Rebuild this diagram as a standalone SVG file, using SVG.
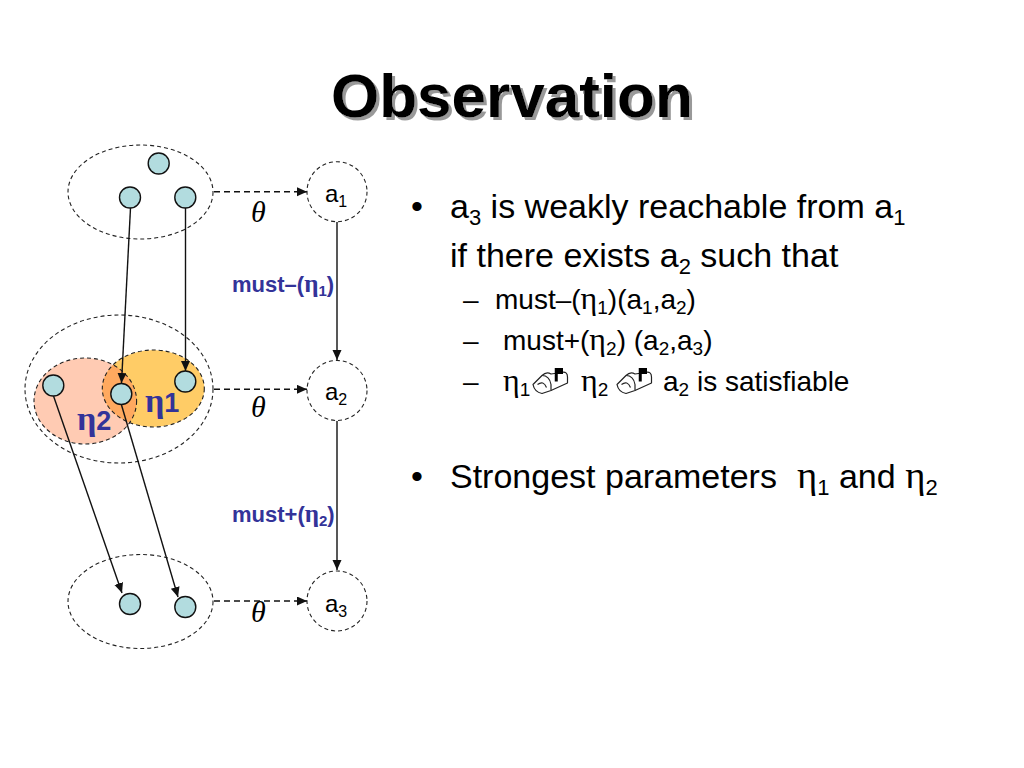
<svg xmlns="http://www.w3.org/2000/svg" xmlns:xlink="http://www.w3.org/1999/xlink" width="1024" height="768" viewBox="0 0 1024 768">
<style>
text{font-family:"Liberation Sans",Arial,sans-serif;fill:#000}
.g{font-family:"Liberation Serif","Times New Roman",serif;font-size:1.14em}
.title{font-size:62px;font-weight:bold;filter:url(#sh)}
.l1{font-size:34px}
.l2{font-size:28px}
.nl{font-size:24px}
.must{font-size:22px;font-weight:bold;fill:#333399}
.eta{font-family:"Liberation Serif",serif;font-size:34px;font-weight:bold;fill:#333399}
.th{font-family:"Liberation Serif",serif;font-style:italic;font-size:30px}
.d{fill:none;stroke:#222;stroke-width:1.1;stroke-dasharray:4 3}
.dot{fill:#B2DCDF;stroke:#111;stroke-width:1.4}
.ar{fill:none;stroke:#111;stroke-width:1.4;marker-end:url(#ah)}
.da{fill:none;stroke:#111;stroke-width:1.4;stroke-dasharray:6 4;marker-end:url(#ah)}
.box{fill:#fff;stroke:#222;stroke-width:.8;stroke-linejoin:round}
</style>
<defs>
<filter id="sh" x="-5%" y="-10%" width="110%" height="125%"><feDropShadow dx="3" dy="3" stdDeviation="0.6" flood-color="#999"/></filter>
<marker id="ah" markerUnits="userSpaceOnUse" markerWidth="11" markerHeight="10" refX="10" refY="4.5" orient="auto"><path d="M0 0L10 4.5L0 9z" fill="#111"/></marker>
<clipPath id="ov"><ellipse cx="153.3" cy="388.5" rx="51" ry="38.5"/></clipPath>
<g id="mb" transform="scale(1.5)"><path class="box" d="M0 9L6 3Q9 0 12 2L19 1Q23 0 23 4V8L12 13L6 15Q1 14 0 9z"/><path class="box" d="M6 3Q11 3 12 9V13M3 9Q7 6 9 11"/><path d="M14.500 2V-2H20V2H16.500V7H14.500z" fill="#000"/></g>
</defs>
<g id="title">
<text class="title" x="331" y="117">Observation</text>
</g>
<g id="group1"><ellipse class="d" cx="140.500" cy="192" rx="72.500" ry="47"/></g>
<g id="group2">
<ellipse cx="85.300" cy="401" rx="51.300" ry="43" fill="#FFCBB3"/>
<ellipse cx="153.300" cy="388.500" rx="51" ry="38.500" fill="#FFCC66"/>
<ellipse cx="85.300" cy="401" rx="51.300" ry="43" fill="#FFA95F" clip-path="url(#ov)"/>
<ellipse class="d" cx="85.300" cy="401" rx="51.300" ry="43"/>
<ellipse class="d" cx="153.300" cy="388.500" rx="51" ry="38.500"/>
<ellipse class="d" cx="119" cy="389" rx="94" ry="74"/>
<text class="eta" x="77" y="430">η<tspan font-family="Liberation Sans" font-size="27">2</tspan></text>
<text class="eta" x="145" y="412">η<tspan font-family="Liberation Sans" font-size="27">1</tspan></text>
</g>
<g id="group3"><ellipse class="d" cx="140.500" cy="601.500" rx="72.500" ry="47"/></g>
<g id="connectors">
<path class="ar" d="M130.500 208L121.500 383"/>
<path class="ar" d="M185.500 208V371"/>
<path class="ar" d="M53.500 396L122 593"/>
<path class="ar" d="M121.500 405L178 597"/>
<path class="ar" d="M337 222V360"/>
<path class="ar" d="M337 421V570"/>
<path class="da" d="M214 191.700H307"/>
<path class="da" d="M214 389.300H307"/>
<path class="da" d="M214 601H307"/>
</g>
<g id="dots">
<circle class="dot" cx="158.700" cy="163.500" r="10.500"/>
<circle class="dot" cx="130" cy="197.500" r="10.500"/>
<circle class="dot" cx="185.300" cy="197.500" r="10.500"/>
<circle class="dot" cx="53.300" cy="385.500" r="10.500"/>
<circle class="dot" cx="121.300" cy="394" r="10.500"/>
<circle class="dot" cx="185.300" cy="381.500" r="10.500"/>
<circle class="dot" cx="130" cy="604" r="10.500"/>
<circle class="dot" cx="185.300" cy="607" r="10.500"/>
</g>
<g id="a1"><circle class="d" cx="337" cy="191.700" r="30"/><text class="nl" x="325" y="202">a<tspan font-size="16" dy="5">1</tspan></text></g>
<g id="a2"><circle class="d" cx="337" cy="390.500" r="30"/><text class="nl" x="325" y="400">a<tspan font-size="16" dy="5">2</tspan></text></g>
<g id="a3"><circle class="d" cx="337" cy="601" r="30"/><text class="nl" x="325" y="612">a<tspan font-size="16" dy="5">3</tspan></text></g>
<g id="thetas">
<text class="th" x="251" y="222">θ</text>
<text class="th" x="251" y="417">θ</text>
<text class="th" x="251" y="622">θ</text>
</g>
<g id="must-labels">
<text class="must" x="232" y="292">must–(<tspan class="g">η</tspan><tspan font-size="15" dy="4">1</tspan><tspan dy="-4">)</tspan></text>
<text class="must" x="232" y="522">must+(<tspan class="g">η</tspan><tspan font-size="15" dy="4">2</tspan><tspan dy="-4">)</tspan></text>
</g>
<g id="bullets">
<text class="l1" x="411" y="218">•</text>
<text class="l1" x="450" y="218">a<tspan font-size="22" dy="7">3</tspan><tspan dy="-7"> is weakly reachable from a</tspan><tspan font-size="22" dy="7">1</tspan></text>
<text class="l1" x="450" y="267">if there exists a<tspan font-size="22" dy="7">2</tspan><tspan dy="-7"> such that</tspan></text>
<text class="l2" x="463" y="309">–</text>
<text class="l2" x="495" y="309">must–(<tspan class="g">η</tspan><tspan font-size="19" dy="5">1</tspan><tspan dy="-5">)(a</tspan><tspan font-size="19" dy="5">1</tspan><tspan dy="-5">,a</tspan><tspan font-size="19" dy="5">2</tspan><tspan dy="-5">)</tspan></text>
<text class="l2" x="463" y="350">–</text>
<text class="l2" x="503" y="350">must+(<tspan class="g">η</tspan><tspan font-size="19" dy="5">2</tspan><tspan dy="-5">) (a</tspan><tspan font-size="19" dy="5">2</tspan><tspan dy="-5">,a</tspan><tspan font-size="19" dy="5">3</tspan><tspan dy="-5">)</tspan></text>
<text class="l2" x="463" y="391">–</text>
<text class="l2" x="503" y="391"><tspan class="g">η</tspan><tspan font-size="19" dy="5">1</tspan></text>
<use xlink:href="#mb" x="533" y="371"/>
<text class="l2" x="581" y="391"><tspan class="g">η</tspan><tspan font-size="19" dy="5">2</tspan></text>
<use xlink:href="#mb" x="617" y="371"/>
<text class="l2" x="663" y="391">a<tspan font-size="19" dy="5">2</tspan><tspan dy="-5"> is satisfiable</tspan></text>
<text class="l1" x="411" y="488">•</text>
<text class="l1" x="450" y="488">Strongest parameters</text>
<text class="l1" x="797" y="488"><tspan class="g">η</tspan><tspan font-size="22" dy="7">1</tspan><tspan dy="-7"> and </tspan><tspan class="g">η</tspan><tspan font-size="22" dy="7">2</tspan></text>
</g>
</svg>
